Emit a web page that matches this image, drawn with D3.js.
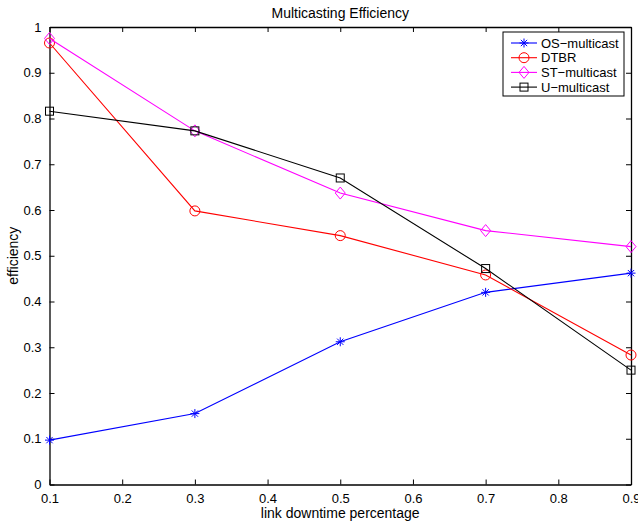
<!DOCTYPE html>
<html>
<head>
<meta charset="utf-8">
<script src="https://cdn.jsdelivr.net/npm/d3@7"></script>
<style>
  body { margin: 0; background: #fff; }
  text { font-family: "Liberation Sans", Arial, sans-serif; }
</style>
</head>
<body>
<div class="chart"></div>
<script>
const xValues = [0.1, 0.3, 0.5, 0.7, 0.9];
const osMulticast = [0.097, 0.155, 0.312, 0.42, 0.462];
const dtbr = [0.965, 0.598, 0.544, 0.458, 0.283];
const stMulticast = [0.975, 0.773, 0.637, 0.555, 0.52];
const uMulticast = [0.816, 0.773, 0.67, 0.472, 0.25];
const xTicks = [0.1, 0.2, 0.3, 0.4, 0.5, 0.6, 0.7, 0.8, 0.9];
const yTicks = [0, 0.1, 0.2, 0.3, 0.4, 0.5, 0.6, 0.7, 0.8, 0.9, 1];

(() => {
  const series = [
    { name: "OS\u2212multicast", values: osMulticast, color: "#0000ff", marker: "star" },
    { name: "DTBR", values: dtbr, color: "#ff0000", marker: "circle" },
    { name: "ST\u2212multicast", values: stMulticast, color: "#ff00ff", marker: "diamond" },
    { name: "U\u2212multicast", values: uMulticast, color: "#000000", marker: "square" },
  ];

  const width = 638, height = 524;
  const plotLeft = 49.5, plotRight = 631, plotTop = 27, plotBottom = 484.5;

  const svg = d3.select(".chart").append("svg")
    .attr("width", width).attr("height", height);

  const x = d3.scaleLinear().domain([0.1, 0.9]).range([plotLeft, plotRight]);
  const y = d3.scaleLinear().domain([0, 1]).range([plotBottom, plotTop]);

  // axes (box with inward ticks)
  const fmt = (d) => d3.format("~g")(d);
  svg.append("g").attr("transform", `translate(0,${plotBottom})`)
    .call(d3.axisBottom(x).tickValues(xTicks).tickFormat(fmt).tickSizeInner(-5).tickSizeOuter(0).tickPadding(9));
  svg.append("g").attr("transform", `translate(0,${plotTop})`)
    .call(d3.axisTop(x).tickValues(xTicks).tickFormat("").tickSizeInner(-5).tickSizeOuter(0));
  svg.append("g").attr("transform", `translate(${plotLeft},0)`)
    .call(d3.axisLeft(y).tickValues(yTicks).tickFormat(fmt).tickSizeInner(-5).tickSizeOuter(0).tickPadding(8));
  svg.append("g").attr("transform", `translate(${plotRight},0)`)
    .call(d3.axisRight(y).tickValues(yTicks).tickFormat("").tickSizeInner(-5).tickSizeOuter(0));

  svg.selectAll(".domain").attr("stroke", "#000").attr("stroke-width", 1.3);
  svg.selectAll(".tick line").attr("stroke", "#000");
  svg.selectAll(".tick text").attr("font-size", 13).attr("fill", "#000")
    .attr("font-family", "Liberation Sans, Arial, sans-serif");

  // titles
  svg.append("text").attr("x", (plotLeft + plotRight) / 2).attr("y", 18)
    .attr("text-anchor", "middle").attr("font-size", 14).text("Multicasting Efficiency");
  svg.append("text").attr("x", (plotLeft + plotRight) / 2).attr("y", 518)
    .attr("text-anchor", "middle").attr("font-size", 14).text("link downtime percentage");
  svg.append("text").attr("transform", `translate(18,${(plotTop + plotBottom) / 2}) rotate(-90)`)
    .attr("text-anchor", "middle").attr("font-size", 14).text("efficiency");

  function drawMarker(g, type, cx, cy, color) {
    if (type === "star") {
      const r = 4.5;
      [[-r, 0, r, 0], [0, -r, 0, r], [-r * 0.7, -r * 0.7, r * 0.7, r * 0.7], [-r * 0.7, r * 0.7, r * 0.7, -r * 0.7]]
        .forEach(([a, b, c, d]) => g.append("line")
          .attr("x1", cx + a).attr("y1", cy + b).attr("x2", cx + c).attr("y2", cy + d)
          .attr("stroke", color).attr("stroke-width", 1));
    } else if (type === "circle") {
      g.append("circle").attr("cx", cx).attr("cy", cy).attr("r", 5)
        .attr("fill", "none").attr("stroke", color);
    } else if (type === "diamond") {
      g.append("path").attr("d", `M${cx},${cy - 6}L${cx + 5},${cy}L${cx},${cy + 6}L${cx - 5},${cy}Z`)
        .attr("fill", "none").attr("stroke", color);
    } else {
      g.append("rect").attr("x", cx - 4).attr("y", cy - 4).attr("width", 8).attr("height", 8)
        .attr("fill", "none").attr("stroke", color);
    }
  }

  const line = d3.line().x((d, i) => x(xValues[i])).y((d) => y(d));

  series.forEach((s) => {
    const g = svg.append("g");
    g.append("path").datum(s.values).attr("d", line)
      .attr("fill", "none").attr("stroke", s.color).attr("stroke-width", 1.1);
    s.values.forEach((v, i) => drawMarker(g, s.marker, x(xValues[i]), y(v), s.color));
  });

  // legend
  const lg = svg.append("g").attr("transform", "translate(503,32)");
  lg.append("rect").attr("width", 121).attr("height", 64)
    .attr("fill", "#fff").attr("stroke", "#000").attr("stroke-width", 1);
  series.forEach((s, i) => {
    const ly = 11 + i * 14.7;
    lg.append("line").attr("x1", 8).attr("x2", 34).attr("y1", ly).attr("y2", ly)
      .attr("stroke", s.color).attr("stroke-width", 1.1);
    drawMarker(lg, s.marker, 21, ly, s.color);
    lg.append("text").attr("x", 38).attr("y", ly + 4.5).attr("font-size", 13).text(s.name);
  });
})();
</script>
</body>
</html>
